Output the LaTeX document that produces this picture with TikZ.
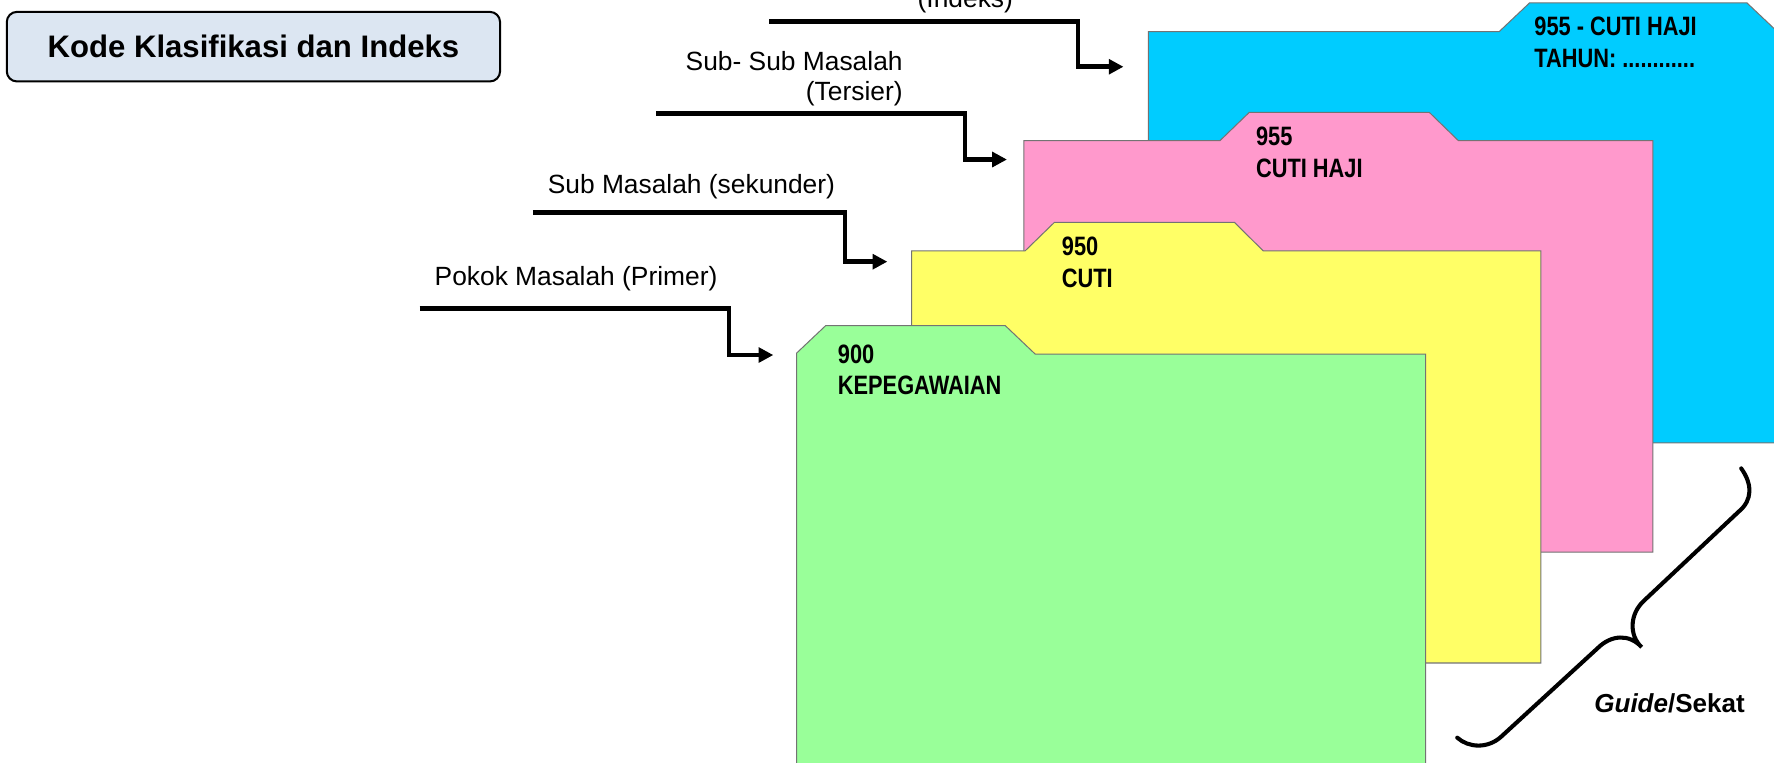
\documentclass[tikz,border=0pt]{standalone}
\usepackage{fontspec}
\setmainfont{Liberation Sans}
\newfontfamily\narrowbf[FakeStretch=0.82]{Liberation Sans Bold}
\usetikzlibrary{arrows.meta}
\definecolor{fcyan}{HTML}{00CCFF}
\definecolor{fpink}{HTML}{FF99CC}
\definecolor{fyellow}{HTML}{FFFF66}
\definecolor{fgreen}{HTML}{99FF99}
\definecolor{titlefill}{HTML}{DCE6F2}
\tikzset{
  folder/.style={draw=black!55, line width=0.9pt, line join=miter},
  conn/.style={line width=4pt, -{Triangle[length=13pt,width=13pt]}},
  lbl/.style={font=\fontsize{23.3}{27}\selectfont, inner sep=0pt},
  ftxt/.style={font=\narrowbf\fontsize{23.5}{28}\selectfont, align=left, inner sep=0pt, anchor=north west},
  titlebox/.style={draw=black, line width=1.8pt, rounded corners=9pt, fill=titlefill},
  bracepath/.style={line width=3.6pt, line cap=round},
}
\begin{document}
\begin{tikzpicture}[x=1pt,y=-1pt]
\useasboundingbox (0,0) rectangle (1568,674);
\clip (0,0) rectangle (1568,674);

% title
\draw[titlebox] (6,10.5) rectangle (442,72);
\node[inner sep=0pt, font=\bfseries\fontsize{27.5}{32}\selectfont] (title) at (224,41.3) {Kode Klasifikasi dan Indeks};

% folders, back to front
\fill[fcyan] (1015,391.5) -- (1015,28) -- (1325,28) -- (1352,2.5) -- (1544,2.5) -- (1571,28) -- (1620,28) -- (1620,391.5) -- cycle;
\draw[folder] (1620,391.5) -- (1015,391.5) -- (1015,28) -- (1325,28) -- (1352,2.5) -- (1544,2.5) -- (1571,28) -- (1620,28);
\node[ftxt] (t4) at (1356,15) {955 - CUTI HAJI\\TAHUN: ............};

\filldraw[folder, fill=fpink] (905,488) -- (905,124.3) -- (1078.3,124.3) -- (1104.2,99.3) -- (1263.3,99.3) -- (1289,124.3) -- (1461,124.3) -- (1461,488) -- cycle;
\node[ftxt] (t3) at (1110,112) {955\\CUTI HAJI};

\filldraw[folder, fill=fyellow] (805.8,586) -- (805.8,221.8) -- (906,221.8) -- (932,196.5) -- (1091,196.5) -- (1116.6,221.8) -- (1362,221.8) -- (1362,586) -- cycle;
\node[ftxt] (t2) at (938.4,209.2) {950\\CUTI};

\filldraw[folder, fill=fgreen] (704.2,690) -- (704.2,312) -- (729.8,287.8) -- (888.5,287.8) -- (915,313) -- (1260,313) -- (1260,690) -- cycle;
\node[ftxt] (t1) at (740.4,304.3) {900\\KEPEGAWAIAN};

% labels
\node[lbl, anchor=base east] (l4) at (895.5,7) {(Indeks)};
\node[lbl, anchor=north east, align=right] (l3) at (798,45) {Sub- Sub Masalah\\(Tersier)};
\node[lbl, anchor=base west] (l2) at (484,171) {Sub Masalah (sekunder)};
\node[lbl, anchor=base west] (l1) at (384,252) {Pokok Masalah (Primer)};

% connectors
\coordinate (a4s) at (680,19.2);
\coordinate (a4k) at (953,59);
\coordinate (a4e) at (993,59);
\coordinate (a3s) at (580,100.5);
\coordinate (a3k) at (853,141);
\coordinate (a3e) at (890,141);
\coordinate (a2s) at (471,188);
\coordinate (a2k) at (746.8,231.3);
\coordinate (a2e) at (784.3,231.3);
\coordinate (a1s) at (371,272.5);
\coordinate (a1k) at (644.3,313.8);
\coordinate (a1e) at (683.5,313.8);
\draw[conn] (a4s) -| (a4k) -- (a4e);
\draw[conn] (a3s) -| (a3k) -- (a3e);
\draw[conn] (a2s) -| (a2k) -- (a2e);
\draw[conn] (a1s) -| (a1k) -- (a1e);

% brace
\draw[bracepath] (1539,414) .. controls (1549,428) and (1549,442) .. (1537,452)
  -- (1453,531) .. controls (1440,543) and (1440,562) .. (1451,572)
  .. controls (1440,560) and (1424,561) .. (1412,573)
  -- (1327,651) .. controls (1315,662) and (1298,661) .. (1288,652);
\node[inner sep=0pt, anchor=base west, font=\bfseries\fontsize{23}{27}\selectfont] (guide) at (1409,630) {\textit{Guide}/Sekat};
\end{tikzpicture}
\end{document}
